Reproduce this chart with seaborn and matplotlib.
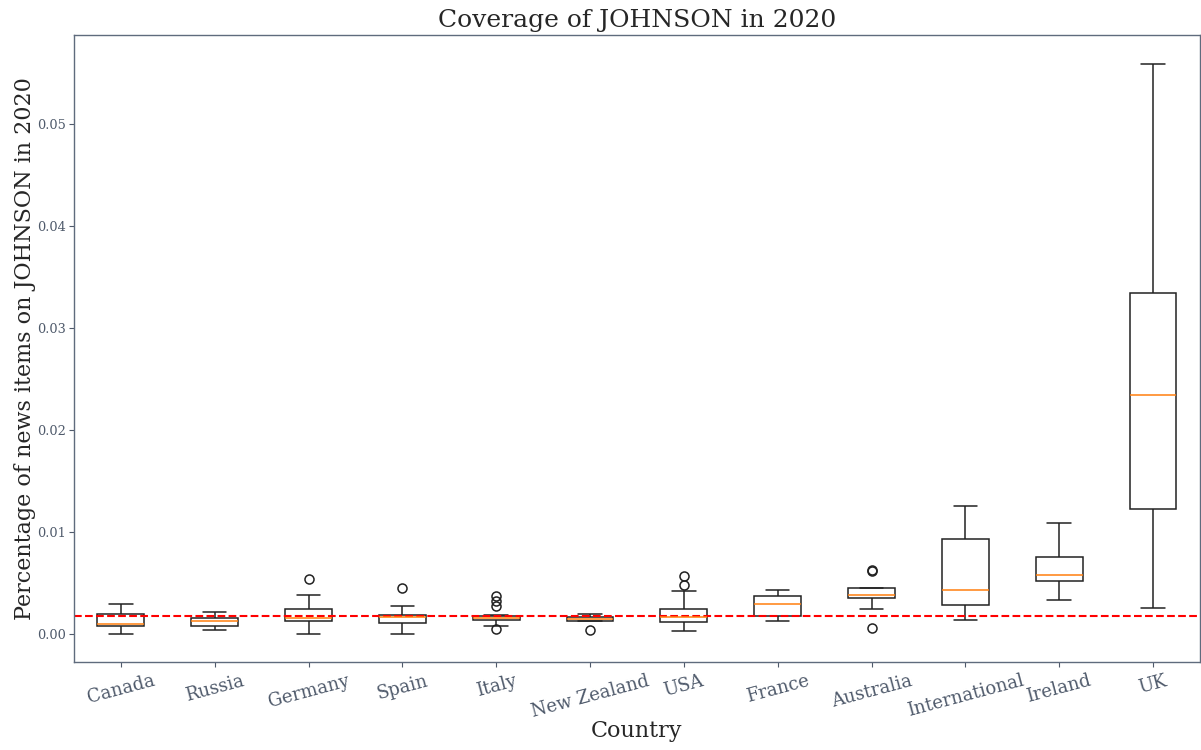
import matplotlib
matplotlib.use("Agg")
import matplotlib.pyplot as plt
import seaborn as sns
import pandas as pd

# ---- data ----
countries = ["Canada", "Russia", "Germany", "Spain", "Italy", "New Zealand",
             "USA", "France", "Australia", "International", "Ireland", "UK"]
whisker_low = [0.0, 0.00036, 0.0, 0.0, 0.0007, 0.0012,
               0.00029, 0.00118, 0.00238, 0.00134, 0.0033, 0.00248]
q1 = [0.00069, 0.00075, 0.00124, 0.00101, 0.0013, 0.0012,
      0.00111, 0.00174, 0.0035, 0.00284, 0.00513, 0.01225]
median = [0.00095, 0.00118, 0.0015, 0.0016, 0.00154, 0.0014,
          0.00164, 0.00291, 0.0038, 0.00425, 0.00572, 0.02343]
q3 = [0.00196, 0.00154, 0.00242, 0.0018, 0.00176, 0.0016,
      0.00242, 0.00363, 0.0045, 0.00928, 0.00755, 0.03343]
whisker_high = [0.00287, 0.00212, 0.00376, 0.00268, 0.00178, 0.00193,
                0.00418, 0.00425, 0.0045, 0.01248, 0.01081, 0.05588]
low_outliers = [[], [], [], [], [0.00046], [0.00036],
                [], [], [0.00059], [], [], []]
high_outliers = [[], [], [0.0053], [0.00444], [0.00268, 0.00317, 0.00366], [],
                 [0.00477, 0.0056], [], [0.0061, 0.0062], [], [], []]
overall_mean = 0.00173


def samples_for(lo, wl, a1, md, a3, wh, hi):
    """Build an observation list whose box statistics equal the values read."""
    k = max(len(lo), len(hi)) + 1
    return (list(lo) + [wl] * (k - len(lo)) + [a1] * k + [md] * k
            + [a3] * (k - len(hi)) + [wh] + list(hi))


rows = []
for i, c in enumerate(countries):
    for v in samples_for(low_outliers[i], whisker_low[i], q1[i], median[i],
                         q3[i], whisker_high[i], high_outliers[i]):
        rows.append({"Country": c, "value": v})
df = pd.DataFrame(rows)

# ---- styling ----
sns.set_style("ticks")
plt.rcParams["font.family"] = ["DejaVu Serif"]
spine_col = "#5f6b7d"
tick_col = "#4f5a6b"

fig = plt.figure(figsize=(12.01, 7.5), dpi=100)
ax = fig.add_axes([0.0616, 0.1173, 0.9375, 0.836])

sns.boxplot(data=df, x="Country", y="value", order=countries, ax=ax,
            width=0.5, color="white", linecolor="black", linewidth=1.1,
            boxprops=dict(facecolor="none", edgecolor="#222222"),
            whiskerprops=dict(color="#222222"),
            capprops=dict(color="#222222"),
            medianprops=dict(color="#ff7f0e", linewidth=1.1),
            flierprops=dict(marker="o", markerfacecolor="none",
                            markeredgecolor="#222222", markersize=6.5,
                            markeredgewidth=1.1))

ax.axhline(overall_mean, color="red", linestyle="--", linewidth=1.5)

ax.set_title("Coverage of JOHNSON in 2020", fontsize=18, pad=6)
ax.set_xlabel("Country", fontsize=16)
ax.set_ylabel("Percentage of news items on JOHNSON in 2020", fontsize=16)
ax.xaxis.set_label_coords(0.5, -0.093)
ax.yaxis.set_label_coords(-0.034, 0.5)

for s in ax.spines.values():
    s.set_visible(True)
    s.set_color(spine_col)
    s.set_linewidth(1.0)

ax.tick_params(axis="y", labelsize=9.3, colors=tick_col, pad=2.5)
ax.tick_params(axis="x", labelsize=13, colors=tick_col)
plt.setp(ax.get_xticklabels(), rotation=15, ha="center")

fig.savefig("out.png", dpi=100, facecolor="white")
